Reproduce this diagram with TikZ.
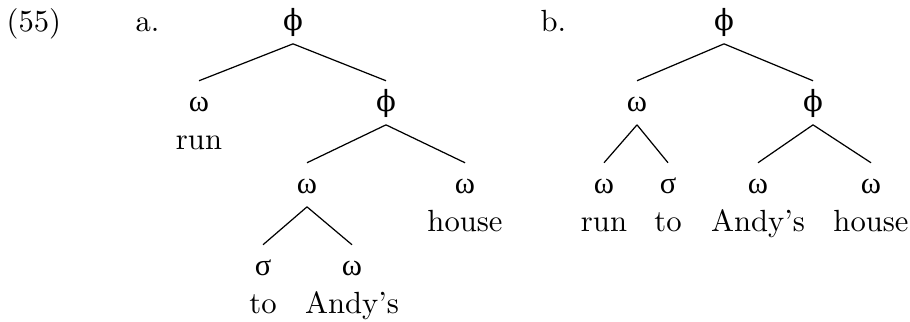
\documentclass[tikz,border=0pt]{standalone}
\usepackage{fontspec}
\newfontfamily\grk{Liberation Serif}
\newfontfamily\phifont[Scale=0.95]{DejaVu Serif}
\newcommand{\myphi}{{\phifont ϕ}}
\begin{document}
\begin{tikzpicture}[x=0.3265pt,y=-0.3265pt,
  g/.style={font=\grk, inner sep=0pt, text height=10pt, text depth=4pt, anchor=base},
  w/.style={inner sep=0pt, anchor=base},
  br/.style={line width=0.4pt}]
\useasboundingbox (0,0) rectangle (910,322);
% labels
\node[w, anchor=base west] (ex) at (6,32) {(55)};
\node[w, anchor=base west] (la) at (135,32) {a.};
\node[w, anchor=base west] (lb) at (540,32) {b.};
% tree a
\node[g] (a0) at (293,31) {\myphi};
\node[g] (a1) at (199,112) {ω};
\node[g] (a2) at (386,112) {\myphi};
\node[g] (a21) at (307,194) {ω};
\node[g] (a22) at (465,194) {ω};
\node[g] (a211) at (263,276) {σ};
\node[g] (a212) at (352,276) {ω};
\node[w] (arun) at (199,150) {run};
\node[w] (ahouse) at (465,232) {house};
\node[w] (ato) at (263,314) {to};
\node[w] (aandy) at (352,314) {Andy’s};
\draw[br] (a0.south) -- (a1.north);
\draw[br] (a0.south) -- (a2.north);
\draw[br] (a2.south) -- (a21.north);
\draw[br] (a2.south) -- (a22.north);
\draw[br] (a21.south) -- (a211.north);
\draw[br] (a21.south) -- (a212.north);
% tree b
\node[g] (b0) at (724,31) {\myphi};
\node[g] (b1) at (637,112) {ω};
\node[g] (b2) at (813,112) {\myphi};
\node[g] (b11) at (604,194) {ω};
\node[g] (b12) at (668,194) {σ};
\node[g] (b21) at (758,194) {ω};
\node[g] (b22) at (871,194) {ω};
\node[w] (brun) at (604,232) {run};
\node[w] (bto) at (668,232) {to};
\node[w] (bandy) at (758,232) {Andy’s};
\node[w] (bhouse) at (871,232) {house};
\draw[br] (b0.south) -- (b1.north);
\draw[br] (b0.south) -- (b2.north);
\draw[br] (b1.south) -- (b11.north);
\draw[br] (b1.south) -- (b12.north);
\draw[br] (b2.south) -- (b21.north);
\draw[br] (b2.south) -- (b22.north);
\end{tikzpicture}
\end{document}
